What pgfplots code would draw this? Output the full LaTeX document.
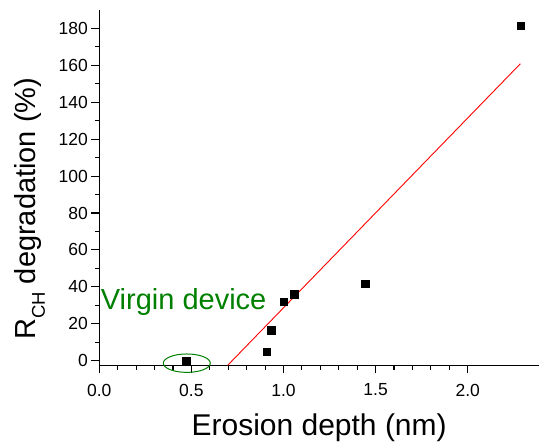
\documentclass[border=0pt]{standalone}
\usepackage{pgfplots}
\pgfplotsset{compat=1.18}
\usepackage{fontspec}
\setmainfont{Liberation Sans}
\definecolor{devgreen}{RGB}{0,128,0}

\begin{document}
\begin{tikzpicture}
% overall frame of the figure
\path[use as bounding box] (-99.3bp,-78.7bp) rectangle (439.7bp,365.3bp);
\begin{axis}[
    scale only axis,
    width=439.7bp, height=355.3bp,
    xmin=0, xmax=2.387,
    ymin=-2.5, ymax=190,
    axis x line*=bottom,
    axis y line*=left,
    axis line style={line width=1.1bp, black},
    every tick/.style={line width=1.1bp, black},
    tick align=outside,
    major tick length=8bp,
    minor tick length=4.5bp,
    xtick={0,0.5,1.0,1.5,2.0},
    ytick={0,20,...,180},
    minor x tick num=4,
    minor y tick num=1,
    xticklabel style={yshift=-7bp,
        /pgf/number format/fixed, /pgf/number format/fixed zerofill,
        /pgf/number format/precision=1},
    /pgf/number format/assume math mode=true,
    tick label style={font=\fontsize{17.5bp}{20bp}\selectfont},
    xlabel={Erosion depth (nm)},
    xlabel style={font=\fontsize{30bp}{34bp}\selectfont,
                  at={(axis description cs:0.5,0)}, anchor=base, yshift=-69.7bp},
    ylabel={R\raisebox{-0.34em}{\fontsize{18.5bp}{20bp}\selectfont CH} degradation (\%)},
    ylabel style={font=\fontsize{29bp}{32bp}\selectfont,
                  at={(axis description cs:-0.1462,0.4407)}, anchor=base},
    clip=false,
]
% linear fit
\addplot[red, line width=0.9bp] coordinates {(0.697,-2.5) (2.286,160.9)};
% measured devices
\addplot[only marks, mark=square*, mark size=3.7bp, black] coordinates {
    (0.472,0)
    (0.910,4.9)
    (0.934,16.6)
    (1.000,31.9)
    (1.059,36.1)
    (1.444,41.7)
    (2.286,181.5)
};
% reference device
\draw[devgreen, line width=1bp] (axis cs:0.475,-1.35) ellipse [x radius=23.5bp, y radius=9.2bp];
\node[devgreen, anchor=base west, inner sep=0pt, font=\fontsize{29bp}{32bp}\selectfont]
    at (axis cs:0.0076,27.8) {Virgin device};
\end{axis}
\end{tikzpicture}
\end{document}
